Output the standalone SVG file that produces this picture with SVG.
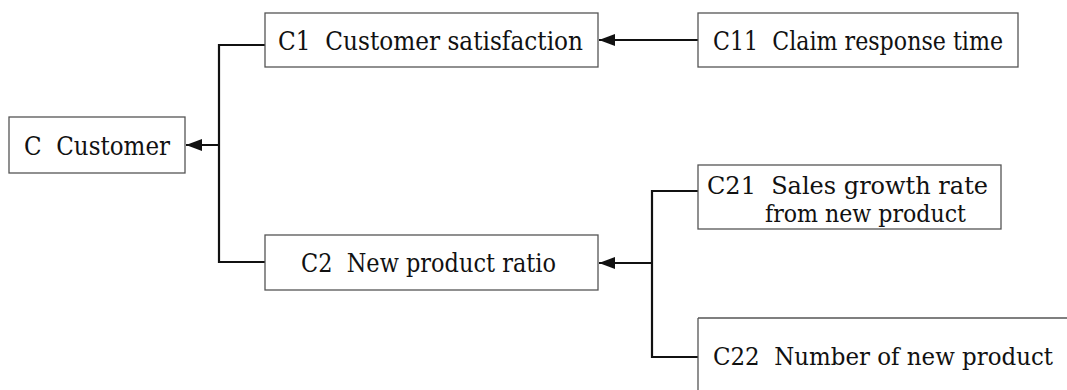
<svg xmlns="http://www.w3.org/2000/svg" width="1067" height="390" viewBox="0 0 1067 390">
  <style>
    .box { fill: #ffffff; stroke: #555555; stroke-width: 1.3; }
    .lbl { font-family: 'DejaVu Serif', 'Liberation Serif', serif; font-size: 26px; fill: #111111; }
    .small { font-size: 24px; }
    .edge { font-size: 23.5px; }
    .link { fill: none; stroke: #111111; stroke-width: 2.2; }
  </style>
  <defs>
    <marker id="arrow" viewBox="0 0 16 12" refX="16" refY="6" markerWidth="16" markerHeight="12" markerUnits="userSpaceOnUse" orient="auto">
      <path d="M0,0 L16,6 L0,12 Z" fill="#111111"/>
    </marker>
  </defs>

  <rect width="1067" height="390" fill="#ffffff"/>

  <!-- connectors -->
  <g id="connectors">
    <!-- C1 and C2 feed C -->
    <path class="link" d="M265,45 H219 V262 H265"/>
    <path class="link" d="M219,145 H186" marker-end="url(#arrow)"/>
    <!-- C11 feeds C1 -->
    <path class="link" d="M698,40 H599" marker-end="url(#arrow)"/>
    <!-- C21 and C22 feed C2 -->
    <path class="link" d="M698,191 H652 V357 H698"/>
    <path class="link" d="M652,263 H599" marker-end="url(#arrow)"/>
  </g>

  <g id="node-C">
    <rect class="box" x="9" y="117" width="176" height="56"/>
    <text class="lbl" x="24" y="155" xml:space="preserve" textLength="146" lengthAdjust="spacingAndGlyphs">C  Customer</text>
  </g>

  <g id="node-C1">
    <rect class="box" x="265" y="13" width="333" height="54"/>
    <text class="lbl" x="278" y="50" xml:space="preserve" textLength="305" lengthAdjust="spacingAndGlyphs">C1  Customer satisfaction</text>
  </g>

  <g id="node-C11">
    <rect class="box" x="698" y="13" width="320" height="54"/>
    <text class="lbl" x="713" y="50" xml:space="preserve" textLength="290" lengthAdjust="spacingAndGlyphs">C11  Claim response time</text>
  </g>

  <g id="node-C2">
    <rect class="box" x="265" y="235" width="333" height="55"/>
    <text class="lbl" x="301" y="272" xml:space="preserve" textLength="255" lengthAdjust="spacingAndGlyphs">C2  New product ratio</text>
  </g>

  <g id="node-C21">
    <rect class="box" x="698" y="165" width="303" height="64"/>
    <text class="lbl small" x="707" y="194" xml:space="preserve" textLength="281" lengthAdjust="spacingAndGlyphs">C21  Sales growth rate</text>
    <text class="lbl small" x="765" y="222" xml:space="preserve" textLength="201" lengthAdjust="spacingAndGlyphs">from new product</text>
  </g>

  <g id="node-C22">
    <!-- box runs past the right and bottom edges of the sheet -->
    <path class="box" d="M1067,318 H698 V390 H1067 Z" stroke-dasharray="369 0 72 999"/>
    <text class="lbl edge" x="713" y="365" xml:space="preserve" textLength="340" lengthAdjust="spacingAndGlyphs">C22  Number of new product</text>
  </g>
</svg>
